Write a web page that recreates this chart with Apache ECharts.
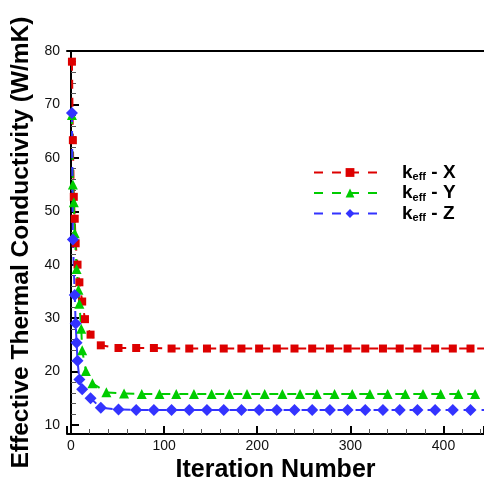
<!DOCTYPE html>
<html>
<head>
<meta charset="utf-8">
<script src="https://cdn.jsdelivr.net/npm/echarts@6/dist/echarts.min.js"></script>
<style>html,body{margin:0;padding:0;background:#fff;}#c{width:484px;height:481px;}</style>
</head>
<body>
<div id="c"></div>
<script>
// Data
var seriesNames = ['X', 'Y', 'Z'];
var redX = [1, 2, 3, 4, 5, 7, 9, 12, 15, 21, 32, 51, 70, 89, 108, 127, 146, 164, 183, 202, 221, 240, 259, 278, 297, 316, 335, 353, 372, 391, 410, 429, 448];
var redY = [78, 63.3, 52.7, 48.6, 44, 40, 36.7, 33.1, 29.8, 26.9, 24.9, 24.4, 24.4, 24.4, 24.3, 24.3, 24.3, 24.3, 24.3, 24.3, 24.3, 24.3, 24.3, 24.3, 24.3, 24.3, 24.3, 24.3, 24.3, 24.3, 24.3, 24.3, 24.3];
var greenX = [1, 2, 3, 4, 6, 8, 9, 11, 12, 16, 23, 38, 57, 76, 95, 113, 132, 151, 170, 189, 208, 227, 246, 264, 283, 302, 321, 340, 359, 378, 397, 416, 434, 453];
var greenY = [68, 55, 51.7, 45.9, 39.2, 35.3, 32.7, 28, 24, 20.1, 17.8, 16.1, 15.9, 15.8, 15.8, 15.8, 15.8, 15.8, 15.8, 15.8, 15.8, 15.8, 15.8, 15.8, 15.8, 15.8, 15.8, 15.8, 15.8, 15.8, 15.8, 15.8, 15.8, 15.8];
var blueX = [1, 2, 4, 5, 6, 7, 9, 12, 21, 32, 51, 70, 89, 108, 127, 146, 164, 183, 202, 221, 240, 259, 278, 297, 316, 335, 353, 372, 391, 410, 429, 448];
var blueY = [68.4, 44.7, 34.3, 29, 25.4, 22, 18.5, 16.7, 15, 13.2, 12.9, 12.8, 12.8, 12.8, 12.8, 12.8, 12.8, 12.8, 12.8, 12.8, 12.8, 12.8, 12.8, 12.8, 12.8, 12.8, 12.8, 12.8, 12.8, 12.8, 12.8, 12.8];

function pairs(xs, ys) { return xs.map(function (x, i) { return [x, ys[i]]; }); }

var colors = ['#dd0000', '#00cc00', '#3333ff'];
var symbols = ['rect', 'triangle', 'diamond'];
var sizes = [8, 10, 12];
var dataSets = [pairs(redX, redY), pairs(greenX, greenY), pairs(blueX, blueY)];

var chart = echarts.init(document.getElementById('c'), null, {renderer: 'canvas'});
var font = '"Liberation Sans", Arial, sans-serif';

var option = {
  backgroundColor: '#ffffff',
  animation: false,
  grid: {left: 67, right: 0, top: 51, bottom: 47, containLabel: false, outerBoundsMode: 'none'},
  legend: {
    orient: 'vertical',
    left: 308,
    top: 158,
    itemWidth: 72,
    itemHeight: 11,
    itemGap: 1,
    data: seriesNames.map(function (n) { return 'k_eff - ' + n; }),
    formatter: function (name) {
      var s = name.split(' - ')[1];
      return '{k|k}{s|eff}{k| - ' + s + '}';
    },
    textStyle: {
      rich: {
        k: {fontSize: 19, fontWeight: 'bold', fontFamily: font, color: '#000', lineHeight: 20, padding: [0, 0, 0, 0]},
        s: {fontSize: 11, fontWeight: 'bold', fontFamily: font, color: '#000', lineHeight: 20, verticalAlign: 'bottom', padding: [8, 0, 0, 0]}
      },
      padding: [0, 0, 0, 11]
    }
  },
  xAxis: [{
    type: 'value',
    min: -4.3,
    max: 443.5,
    splitNumber: 5,
    name: 'Iteration Number',
    nameLocation: 'middle',
    nameGap: 22,
    nameTextStyle: {fontSize: 25, fontWeight: 'bold', fontFamily: font, color: '#000'},
    axisLine: {lineStyle: {color: '#000', width: 2}},
    axisTick: {inside: true, length: 8, lineStyle: {color: '#000', width: 2}},
    minorTick: {show: true, splitNumber: 5, length: 5, lineStyle: {color: '#555', width: 1}},
    splitLine: {show: false},
    axisLabel: {fontSize: 14, fontFamily: font, color: '#111', margin: 5, showMinLabel: false, showMaxLabel: false}
  }, {
    type: 'value',
    position: 'top',
    min: -4.3,
    max: 443.5,
    axisLine: {show: true, lineStyle: {color: '#000', width: 2}},
    axisTick: {show: false},
    axisLabel: {show: false},
    splitLine: {show: false}
  }],
  yAxis: {
    type: 'value',
    min: 8.3,
    max: 80,
    splitNumber: 7,
    name: 'Effective Thermal Conductivity (W/mK)',
    nameLocation: 'middle',
    nameGap: 33,
    nameTextStyle: {fontSize: 24.5, fontWeight: 'bold', fontFamily: font, color: '#000'},
    axisLine: {show: true, lineStyle: {color: '#000', width: 2}},
    axisTick: {inside: true, length: 8, lineStyle: {color: '#000', width: 2}},
    minorTick: {show: true, splitNumber: 5, length: 5, lineStyle: {color: '#555', width: 1}},
    splitLine: {show: false},
    axisLabel: {fontSize: 14, fontFamily: font, color: '#111', margin: 7, showMinLabel: false}
  },
  series: dataSets.map(function (d, i) {
    return {
      name: 'k_eff - ' + seriesNames[i],
      type: 'line',
      data: d,
      clip: true,
      symbol: symbols[i],
      symbolSize: sizes[i],
      showAllSymbol: true,
      color: colors[i],
      itemStyle: {color: colors[i]},
      lineStyle: {color: colors[i], width: 2, type: [9, 9]}
    };
  })
};
chart.setOption(option);
</script>
</body>
</html>
